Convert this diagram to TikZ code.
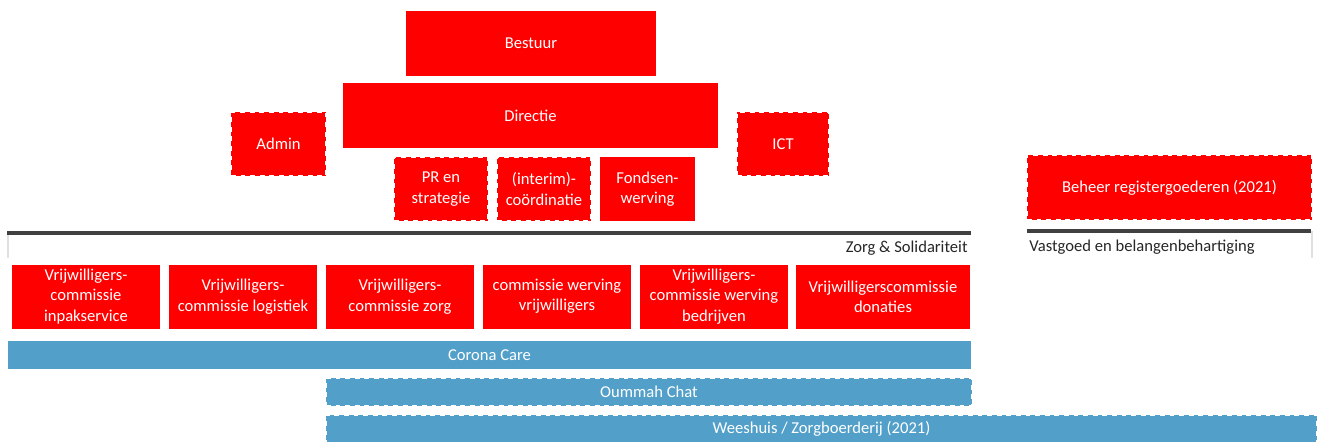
\documentclass[tikz,border=0pt]{standalone}
\usepackage{fontspec}
\setmainfont{Carlito}
\usepackage{xcolor}
\usetikzlibrary{positioning}

\definecolor{orgred}{HTML}{FF0000}
\definecolor{orgblue}{HTML}{52A0C9}
\definecolor{bargray}{HTML}{404040}

\begin{document}
\begin{tikzpicture}[
            x=0.5pt, y=-0.5pt,
            font=\fontsize{8.3}{10.2}\selectfont,
            box/.style={rectangle, fill=orgred, text=white, align=center, inner sep=0pt, outer sep=0pt, minimum width=47pt, minimum height=32pt},
            dashbox/.style={box, draw=white, line width=1.3pt, dash pattern=on 2.4pt off 2.4pt},
            comm/.style={box, minimum width=74pt, minimum height=32pt},
            band/.style={rectangle, fill=orgblue, text=white, inner sep=0pt, outer sep=0pt, minimum height=14pt},
            dashband/.style={band, draw=white, line width=1.3pt, dash pattern=on 2.4pt off 2.4pt},
            group/.style={bargray, line width=2pt}
        ]
        \useasboundingbox (0,0) rectangle (1319,441);

        % Top management
        \node[box, minimum width=125pt, minimum height=32.5pt] (bestuur) at (531,43.5) {Bestuur};
        \node[box, minimum width=187.5pt, minimum height=32.5pt] (directie) at (530.5,115.5) {Directie};
        \node[dashbox, minimum width=47.5pt] (admin) at (278.5,144) {Admin};
        \node[dashbox, minimum width=46pt] (ict) at (783,144) {ICT};

        % Staff under the Directie
        \node[dashbox] (pr) at (441,189) {PR en\\strategie};
        \node[dashbox, right=4.5pt of pr] (interim) {(interim)-\\coördinatie};
        \node[box, right=4.5pt of interim, minimum width=47.5pt] (fonds) {Fondsen-\\werving};

        % Vastgoed
        \node[dashbox, minimum width=142.5pt, minimum height=32.5pt] (beheer) at (1169.5,187.5) {Beheer registergoederen (2021)};
        \draw[black!12, line width=0.6pt] (1312,231) -- (1312,258);
        \draw[group] (1027,231) -- (1311,231);
        \node[anchor=west, text=black!85, inner sep=0pt] (vastgoed) at (1029,247) {Vastgoed en belangenbehartiging};

        % Zorg & Solidariteit
        \draw[black!12, line width=0.6pt] (8,233) -- (8,258);
        \draw[group] (7,233) -- (971,233);
        \node[anchor=east, text=black!85, inner sep=0pt] (zorg) at (968,248) {Zorg \& Solidariteit};

        \node[comm] (inpak) at (86,296.5) {Vrijwilligers-\\commissie\\inpakservice};
        \node[comm, right=4.5pt of inpak] (logistiek) {Vrijwilligers-\\commissie logistiek};
        \node[comm, right=4.5pt of logistiek] (czorg) {Vrijwilligers-\\commissie zorg};
        \node[comm, right=4.5pt of czorg] (werving) {commissie werving\\vrijwilligers};
        \node[comm, right=4.5pt of werving] (bedrijven) {Vrijwilligers-\\commissie werving\\bedrijven};
        \node[comm, right=4pt of bedrijven, minimum width=87pt] (donaties) {Vrijwilligerscommissie\\donaties};

        % Projects
        \node[band, minimum width=481.5pt] (corona) at (489.5,355) {Corona Care};
        \node[dashband, minimum width=323pt] (oummah) at (649,392) {Oummah Chat};
        \node[dashband, minimum width=495.5pt] (weeshuis) at (821.5,429) {Weeshuis / Zorgboerderij (2021)};

    \end{tikzpicture}
\end{document}
